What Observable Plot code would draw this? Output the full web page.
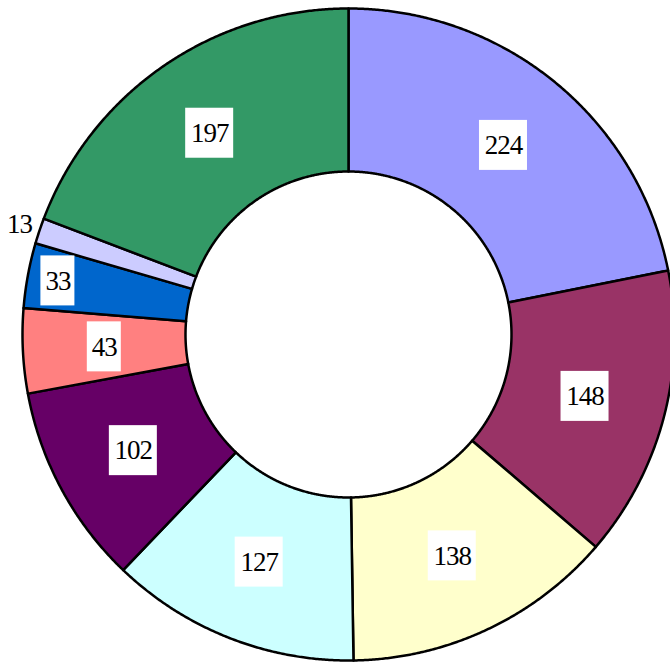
<!DOCTYPE html>
<html>
<head>
<meta charset="utf-8">
<script src="https://cdn.jsdelivr.net/npm/d3@7"></script>
<script src="https://cdn.jsdelivr.net/npm/@observablehq/plot@0.6"></script>
<style>
  html, body { margin: 0; padding: 0; background: #fff; }
  #chart { width: 670px; height: 664px; overflow: hidden; }
</style>
</head>
<body>
<div id="chart"></div>
<script>
// Data (clockwise from 12 o'clock)
const labels = ["224", "148", "138", "127", "102", "43", "33", "13", "197"];
const values = [224, 148, 138, 127, 102, 43, 33, 13, 197];
const colors = ["#9999FF", "#993366", "#FFFFCC", "#CCFFFF", "#660066", "#FF8080", "#0066CC", "#CCCCFF", "#339966"];

const W = 670, H = 664;
const R = 326, r0 = 163;
const total = d3.sum(values);

// Build slices
let acc = 0;
const slices = values.map((v, i) => {
  const a0 = acc / total * 2 * Math.PI;
  acc += v;
  const a1 = acc / total * 2 * Math.PI;
  return { i, v, a0, a1, frac: v / total };
});

function ringPolygon(s) {
  const pts = [];
  const n = Math.max(4, Math.ceil((s.a1 - s.a0) / 0.005));
  for (let k = 0; k <= n; k++) {
    const a = s.a0 + (s.a1 - s.a0) * k / n;
    pts.push({ x: R * Math.sin(a), y: R * Math.cos(a) });
  }
  for (let k = n; k >= 0; k--) {
    const a = s.a0 + (s.a1 - s.a0) * k / n;
    pts.push({ x: r0 * Math.sin(a), y: r0 * Math.cos(a) });
  }
  return pts;
}

// Label positions: centroid; small slices pushed outward
const labelData = slices.map(s => {
  const am = (s.a0 + s.a1) / 2;
  let rad = (R + r0) / 2;
  if (s.frac < 0.02) rad = R + 21;
  else if (s.frac < 0.04) rad = (R + r0) / 2 + 51;
  const x = rad * Math.sin(am), y = rad * Math.cos(am);
  const w = labels[s.i].length === 3 ? 48 : 34;
  return { x, y, text: labels[s.i], w, box: s.frac >= 0.02 };
});

const marks = [];
slices.forEach(s => {
  marks.push(Plot.line(ringPolygon(s), {
    x: "x", y: "y",
    curve: "linear-closed",
    fill: colors[s.i],
    stroke: "#000",
    strokeWidth: 2.5,
    strokeLinejoin: "round"
  }));
});
marks.push(Plot.rect(labelData.filter(d => d.box), {
  x1: d => d.x - d.w / 2, x2: d => d.x + d.w / 2,
  y1: d => d.y - 25, y2: d => d.y + 25,
  fill: "#fff"
}));
marks.push(Plot.text(labelData, {
  x: "x", y: "y", text: "text",
  fill: "#000",
  fontSize: 27,
  fontFamily: "Liberation Serif"
}));

const chart = Plot.plot({
  width: W, height: H,
  margin: 0,
  x: { domain: [-348, 322], range: [0, W], axis: null },
  y: { domain: [-330, 334], range: [H, 0], axis: null },
  style: { background: "#fff", fontFamily: "Liberation Serif", letterSpacing: "-1px" },
  marks
});
document.getElementById("chart").appendChild(chart);
</script>
</body>
</html>
